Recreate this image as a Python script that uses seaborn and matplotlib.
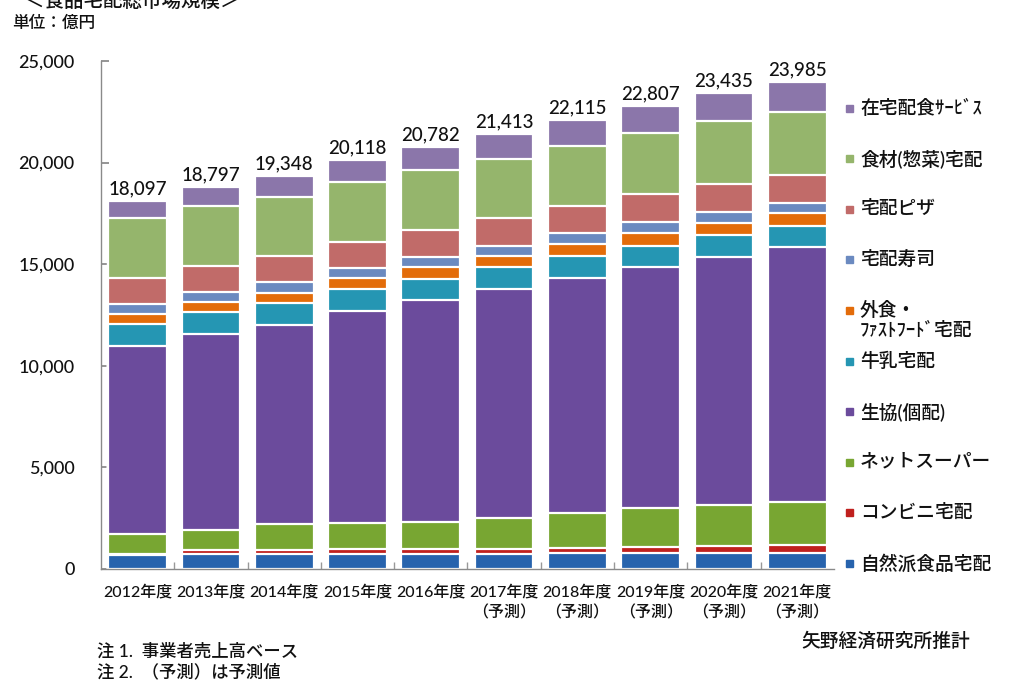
import numpy as np
import pandas as pd
import matplotlib
matplotlib.use("Agg")
import matplotlib.pyplot as plt
import seaborn as sns

years = ["2012年度", "2013年度", "2014年度", "2015年度", "2016年度",
         "2017年度\n（予測）", "2018年度\n（予測）", "2019年度\n（予測）",
         "2020年度\n（予測）", "2021年度\n（予測）"]
totals = [18097, 18797, 19348, 20118, 20782, 21413, 22115, 22807, 23435, 23985]

# stacked from bottom to top
shizenha = [700, 740, 740, 750, 750, 750, 780, 780, 780, 785]
konbini = [60, 170, 200, 250, 250, 240, 260, 300, 350, 380]
netsuper = [950, 1025, 1260, 1260, 1330, 1520, 1730, 1940, 2040, 2135]
seikyo = [9281, 9630, 9808, 10452, 10908, 11255, 11536, 11857, 12199, 12532]
gyunyu = [1066, 1098, 1098, 1053, 1034, 1083, 1098, 1034, 1068, 1048]
gaishoku = [492, 492, 493, 541, 576, 571, 590, 639, 606, 625]
sushi = [492, 492, 541, 522, 492, 492, 526, 542, 541, 522]
pizza = [1265, 1264, 1264, 1279, 1343, 1378, 1359, 1363, 1363, 1363]
shokuzai = [2984, 2969, 2918, 2938, 2953, 2888, 2938, 2995, 3100, 3085]
zaitaku = [807, 917, 1026, 1073, 1146, 1236, 1298, 1357, 1388, 1510]

series = ["自然派食品宅配", "コンビニ宅配", "ネットスーパー", "生協(個配)", "牛乳宅配",
          "外食・\nﾌｧｽﾄﾌｰﾄﾞ宅配", "宅配寿司", "宅配ピザ", "食材(惣菜)宅配", "在宅配食ｻｰﾋﾞｽ"]
values = [shizenha, konbini, netsuper, seikyo, gyunyu, gaishoku, sushi, pizza, shokuzai, zaitaku]
colors = ["#2763ad", "#c0201e", "#78a632", "#6b4b9c", "#2596b3",
          "#e36c0a", "#6b8ac0", "#c16b69", "#95b56c", "#8b76aa"]

sns.set_theme(style="white")
plt.rcParams["font.family"] = ["Lato", "Noto Sans CJK JP", "DejaVu Sans"]
plt.rcParams["font.weight"] = "medium"

df = pd.DataFrame(dict(zip(series, values)), index=years)
cum = df.cumsum(axis=1)

fig = plt.figure(figsize=(10.24, 6.91), dpi=100)
ax = fig.add_axes([0.0986, 0.1766, 0.7158, 0.7352])

# draw cumulative bars from top layer down so they stack
for name, c in zip(series[::-1], colors[::-1]):
    sns.barplot(x=df.index, y=cum[name].values, color=c, saturation=1,
                width=0.8, edgecolor="white", linewidth=1.6, ax=ax)

for i, t in enumerate(totals):
    ax.text(i, t + 180, f"{t:,}", ha="center", va="bottom", fontsize=13.5, color="#111111")

ax.set_xlim(-0.5, 9.5)
ax.set_ylim(0, 25000)
ax.set_yticks(range(0, 25001, 5000))
ax.set_yticklabels([f"{v:,}" for v in range(0, 25001, 5000)])
ax.set_xlabel("")
ax.set_ylabel("")
ax.tick_params(axis="y", direction="in", length=6, color="#888888", pad=19,
               labelsize=13, labelcolor="#111111", left=True)
ax.tick_params(axis="x", length=0, pad=11, labelsize=11.5, labelcolor="#111111")
ax.set_xticks(np.arange(0.5, 9.5, 1), minor=True)
ax.tick_params(axis="x", which="minor", direction="in", length=5, color="#999999", bottom=True)
for lab in ax.get_xticklabels():
    lab.set_linespacing(1.5)
for s in ["top", "right"]:
    ax.spines[s].set_visible(False)
for s in ["left", "bottom"]:
    ax.spines[s].set_color("#8a8a8a")
    ax.spines[s].set_linewidth(1.0)

# legend on the right, top layer first
for i, (name, c) in enumerate(zip(series[::-1], colors[::-1])):
    ypx = 108 + i * 50.6
    yf = 1 - ypx / 691
    fig.add_artist(plt.Rectangle((846 / 1024, yf - 3.5 / 691), 7 / 1024, 7 / 691,
                                 color=c, transform=fig.transFigure))
    fig.text(860 / 1024, yf + 9.5 / 691, name, ha="left", va="top", fontsize=13.5,
             color="#111111", linespacing=1.2)

fig.text(25 / 1024, 1.0, "＜食品宅配総市場規模＞", ha="left", va="center", fontsize=14, color="#111111")
fig.text(12 / 1024, 1 - 23 / 691, "単位：億円", ha="left", va="center", fontsize=12, color="#111111")
fig.text(97 / 1024, 1 - 652 / 691, "注 1.  事業者売上高ベース", ha="left", va="center", fontsize=12.5, color="#111111")
fig.text(97 / 1024, 1 - 672 / 691, "注 2.  （予測）は予測値", ha="left", va="center", fontsize=12.5, color="#111111")
fig.text(801 / 1024, 1 - 641 / 691, "矢野経済研究所推計", ha="left", va="center", fontsize=13.5, color="#111111")

fig.savefig("out.png", dpi=100)
